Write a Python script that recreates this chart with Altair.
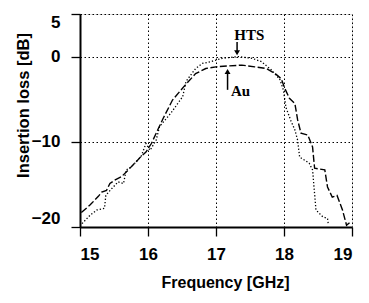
import altair as alt
import pandas as pd

# Au (dashed) measured curve
au_freq = [15.02, 15.15, 15.27, 15.32, 15.39, 15.44, 15.51, 15.61, 15.71, 15.83, 15.90, 15.97,
           16.05, 16.12, 16.22, 16.36, 16.53, 16.70, 16.85, 17.00, 17.18, 17.38, 17.57, 17.74,
           17.87, 17.96, 18.01, 18.08, 18.16, 18.20, 18.25, 18.35, 18.42, 18.45, 18.60, 18.64,
           18.71, 18.78, 18.86, 18.92, 18.98]
au_loss = [-18.3, -17.4, -16.4, -15.9, -15.7, -14.9, -14.5, -14.1, -13.3, -12.3, -11.7, -11.2,
           -10.2, -9.0, -7.3, -5.1, -3.5, -2.0, -1.4, -1.2, -1.1, -1.0, -1.2, -1.4,
           -2.0, -2.6, -3.7, -4.9, -5.5, -7.4, -9.0, -9.2, -10.6, -13.1, -13.3, -15.3,
           -16.5, -16.3, -18.0, -19.8, -19.4]

# HTS (dotted) measured curve
hts_freq = [15.03, 15.15, 15.25, 15.36, 15.38, 15.42, 15.56, 15.64, 15.68, 15.76, 15.90, 15.97,
            16.03, 16.12, 16.17, 16.34, 16.51, 16.56, 16.70, 16.80, 16.92, 17.09, 17.33, 17.53,
            17.67, 17.82, 17.94, 17.99, 18.03, 18.10, 18.16, 18.20, 18.23, 18.37, 18.42, 18.47,
            18.57, 18.64, 18.65]
hts_loss = [-19.6, -18.6, -18.0, -17.8, -16.3, -15.9, -14.7, -14.9, -13.3, -12.9, -11.7, -10.2,
            -11.0, -9.8, -8.2, -6.6, -4.7, -2.9, -1.4, -0.8, -0.6, -0.2, 0.0, -0.2,
            -0.6, -1.6, -2.7, -3.9, -6.0, -7.5, -8.6, -9.8, -11.8, -12.5, -13.3, -18.0,
            -18.8, -19.0, -19.6]

x_ticks = [15, 16, 17, 18, 19]
y_ticks = [5, 0, -10, -20]

# annotations
ann_text = ["HTS", "Au"]
ann_x = [17.49, 17.36]
ann_y = [2.5, -4.0]
arrow_x = [17.31, 17.17]
arrow_from = [1.7, -3.9]
arrow_to = [0.45, -1.75]
arrow_shape = ["triangle-down", "triangle-up"]

au_df = pd.DataFrame({"f": au_freq, "v": au_loss, "i": range(len(au_freq))})
hts_df = pd.DataFrame({"f": hts_freq, "v": hts_loss, "i": range(len(hts_freq))})
ann_df = pd.DataFrame({"f": ann_x, "v": ann_y, "t": ann_text})
arr_df = pd.DataFrame({"f": arrow_x, "v": arrow_from, "v2": arrow_to, "s": arrow_shape})

FONT = "Liberation Sans"
W, H = 272, 213

X = alt.X("f:Q", scale=alt.Scale(domain=[15, 19], nice=False, zero=False),
          axis=alt.Axis(values=x_ticks, title="Frequency [GHz]", format="d",
                        grid=True, gridColor="black", gridDash=[1.5, 2.5], gridWidth=1,
                        gridOpacity=1,
                        domainColor="black", domainWidth=2, tickColor="black",
                        tickSize=9, tickWidth=1.3, labelPadding=10,
                        labelFont=FONT, labelFontSize=17, labelFontWeight="bold",
                        labelColor="black",
                        titleFont=FONT, titleFontSize=16, titleFontWeight="bold",
                        titleColor="black", titleX=145, titleY=47, titleBaseline="top"))
Y = alt.Y("v:Q", scale=alt.Scale(domain=[-20, 5], nice=False, zero=False),
          axis=alt.Axis(values=y_ticks, title="Insertion loss [dB]", format="d",
                        grid=True, gridColor="black", gridDash=[1.5, 2.5], gridWidth=1,
                        gridOpacity=1,
                        domainColor="black", domainWidth=2, tickColor="black",
                        tickSize=9, tickWidth=1.3, labelPadding=11, labelFlush=True,
                        labelFont=FONT, labelFontSize=17, labelFontWeight="bold",
                        labelColor="black",
                        titleFont=FONT, titleFontSize=16.5, titleFontWeight="bold",
                        titleColor="black", titleX=-57, titleY=91, titleBaseline="middle"))

au_line = alt.Chart(au_df).mark_line(color="black", strokeWidth=1.4, strokeDash=[7, 2.5]).encode(
    x=X, y=Y, order="i:Q")
hts_line = alt.Chart(hts_df).mark_line(color="black", strokeWidth=1.3, strokeDash=[1.3, 2]).encode(
    x=X, y=Y, order="i:Q")
arrows = alt.Chart(arr_df).mark_rule(color="black", strokeWidth=1.5).encode(
    x=X, y=Y, y2="v2:Q")
heads = alt.Chart(arr_df).mark_point(color="black", filled=True, opacity=1, size=35).encode(
    x=X, y=alt.Y("v2:Q", scale=alt.Scale(domain=[-20, 5], nice=False, zero=False)),
    shape=alt.Shape("s:N", scale=None))
labels = alt.Chart(ann_df).mark_text(font="Liberation Serif", fontSize=15, fontWeight="bold",
                                     color="black", align="center", baseline="middle").encode(
    x=X, y=Y, text="t:N")

chart = alt.layer(hts_line, au_line, arrows, heads, labels).properties(
    width=W, height=H,
    autosize=alt.AutoSizeParams(type="none"),
    padding={"left": 72, "top": 6, "right": 9, "bottom": 66},
).configure_view(stroke="black", strokeWidth=1.2).configure(background="white")

chart.save("out.html", embed_options={"renderer": "svg", "actions": False})
